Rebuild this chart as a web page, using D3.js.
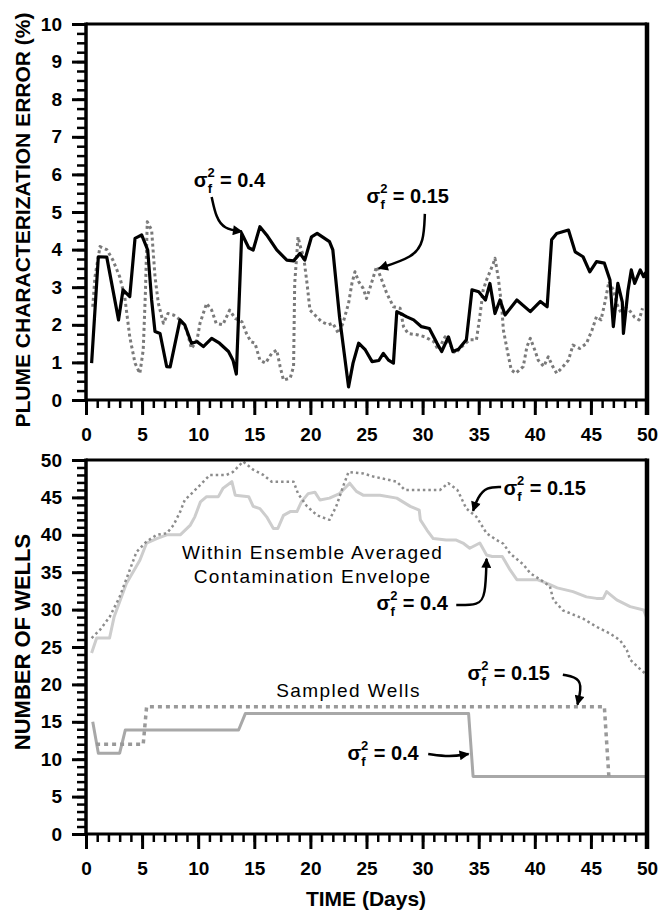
<!DOCTYPE html>
<html>
<head>
<meta charset="utf-8">
<style>
    body { margin: 0; background: #fff; }
    text { font-family: "Liberation Sans", Arial, Helvetica, sans-serif; }
    .tick text { font-size: 19px; font-weight: bold; fill: #000; }
    .tick line { stroke: #000; }
    .sig { font-size: 20px; font-weight: bold; }
    .note { font-size: 19px; letter-spacing: 1.4px; }
    .ttl { font-size: 21px; font-weight: bold; }
</style>
</head>
<body>
<div class="container"></div>
<script src="https://d3js.org/d3.v7.min.js"></script>
<script>
    // ---- top panel: plume characterization error (%) ----
    var err04_t = [0.5, 1.1, 1.85, 2.9, 3.3, 3.9, 4.37, 4.96, 5.5, 5.85, 6.15, 6.6, 7.19, 7.5, 8.38, 8.8, 9.4, 9.9, 10.46, 11.2, 11.9, 12.7, 13.1, 13.4, 13.88, 14.5, 14.9, 15.5, 16.1, 17.0, 17.9, 18.5, 19.07, 19.5, 20.1, 20.6, 21.7, 22.0, 22.6, 23.4, 23.8, 24.3, 24.9, 25.5, 26.1, 26.5, 26.96, 27.4, 27.7, 28.3, 28.6, 29.2, 29.9, 30.6, 31.3, 31.7, 32.3, 32.7, 33.2, 33.9, 34.4, 35.0, 35.6, 36.0, 36.45, 36.9, 37.35, 38.4, 39.6, 40.5, 41.1, 41.5, 41.95, 43.0, 43.6, 44.3, 44.9, 45.5, 46.2, 46.7, 47.0, 47.4, 47.8, 47.9, 48.3, 48.6, 48.9, 49.4, 49.7, 49.9];
    var err04_v = [0.98, 3.81, 3.8, 2.13, 2.93, 2.75, 4.3, 4.39, 3.99, 2.66, 1.82, 1.77, 0.89, 0.88, 2.13, 2.0, 1.51, 1.55, 1.42, 1.64, 1.51, 1.29, 1.06, 0.69, 4.43, 4.05, 3.99, 4.61, 4.39, 3.99, 3.72, 3.7, 3.9, 3.72, 4.34, 4.43, 4.21, 3.99, 2.2, 0.35, 0.98, 1.51, 1.33, 1.02, 1.05, 1.24, 1.06, 0.98, 2.35, 2.26, 2.21, 2.13, 1.95, 1.9, 1.5, 1.29, 1.68, 1.29, 1.35, 1.6, 2.93, 2.88, 2.66, 3.1, 2.3, 2.66, 2.26, 2.66, 2.35, 2.62, 2.48, 4.26, 4.43, 4.52, 3.94, 3.81, 3.41, 3.68, 3.64, 3.19, 1.95, 3.1, 2.6, 1.77, 2.9, 3.46, 3.1, 3.46, 3.28, 3.4];

    var err015_t = [0.6, 0.8, 1.25, 1.85, 2.4, 3.0, 3.45, 3.9, 4.37, 4.8, 5.1, 5.3, 5.46, 5.85, 6.15, 6.45, 6.9, 7.3, 7.8, 8.4, 8.97, 9.4, 9.9, 10.16, 10.75, 11.2, 11.6, 12.2, 12.8, 13.3, 13.9, 14.3, 14.7, 15.06, 15.5, 16.0, 16.55, 17.0, 17.3, 17.6, 18.2, 18.5, 18.6, 18.9, 19.1, 19.4, 19.7, 19.96, 20.4, 21.0, 21.6, 22.0, 22.5, 22.9, 23.4, 23.7, 23.97, 24.3, 24.7, 25.0, 25.3, 25.9, 26.3, 26.8, 27.4, 28.0, 28.3, 28.7, 29.6, 30.2, 31.0, 31.4, 32.0, 32.4, 32.9, 33.5, 34.2, 34.8, 35.1, 35.4, 35.7, 36.3, 36.45, 36.75, 37.05, 37.2, 37.6, 37.9, 38.3, 38.97, 39.3, 39.6, 40.0, 40.3, 40.8, 41.2, 41.6, 41.95, 42.4, 43.0, 43.4, 44.0, 44.6, 45.1, 45.5, 45.9, 46.3, 46.6, 47.0, 47.3, 47.7, 48.0, 48.4, 48.9, 49.3, 49.6];
    var err015_v = [2.48, 3.28, 4.08, 4.0, 3.72, 3.28, 2.75, 1.68, 0.98, 0.71, 1.33, 2.9, 4.74, 4.52, 3.28, 2.57, 2.04, 2.3, 2.26, 2.13, 1.86, 1.37, 1.6, 2.04, 2.57, 2.39, 2.04, 2.0, 2.39, 2.17, 2.08, 1.77, 1.55, 1.51, 1.06, 0.98, 1.24, 1.33, 0.89, 0.53, 0.58, 0.89, 3.1, 4.34, 4.08, 3.81, 3.1, 2.39, 2.26, 2.08, 2.0, 2.04, 1.77, 2.04, 2.57, 3.1, 3.41, 3.15, 2.97, 2.7, 2.97, 3.55, 3.24, 2.84, 2.48, 2.44, 1.95, 1.77, 1.73, 1.68, 1.55, 1.33, 1.68, 1.5, 1.24, 1.42, 1.6, 1.6, 2.22, 2.93, 3.19, 3.63, 3.77, 3.24, 2.48, 1.86, 1.24, 0.8, 0.71, 0.89, 1.42, 1.64, 1.33, 1.06, 0.89, 1.15, 0.89, 0.71, 0.85, 1.06, 1.46, 1.37, 1.5, 1.86, 2.22, 2.13, 2.66, 3.15, 2.93, 2.57, 2.3, 2.48, 2.4, 2.2, 2.13, 2.44];

    // ---- bottom panel: number of wells ----
    var env015_t = [0.5, 1.25, 2.1, 3.0, 3.9, 4.5, 5.4, 6.3, 7.2, 7.8, 8.4, 8.8, 9.4, 10.2, 11.05, 12.5, 13.1, 14.0, 14.9, 15.8, 16.55, 18.5, 18.9, 19.7, 20.6, 21.7, 22.3, 22.9, 23.4, 24.7, 25.6, 27.7, 28.4, 31.55, 32.3, 33.1, 33.9, 34.8, 35.7, 36.6, 37.2, 37.8, 39.0, 39.6, 40.5, 41.35, 41.65, 42.5, 44.3, 45.5, 46.7, 47.6, 48.2, 48.5, 49.2, 49.8];
    var env015_v = [26.2, 27.3, 29.0, 31.7, 35.3, 37.7, 39.1, 40.0, 40.2, 41.3, 43.1, 44.65, 45.5, 46.7, 48.0, 48.0, 48.4, 49.8, 48.7, 48.0, 47.1, 47.1, 45.5, 43.8, 42.6, 42.0, 43.8, 46.4, 48.4, 48.2, 47.8, 47.1, 46.0, 46.0, 46.9, 46.0, 43.5, 42.4, 40.2, 39.3, 38.8, 37.5, 36.0, 34.85, 34.0, 33.1, 31.3, 29.9, 28.8, 27.7, 26.8, 25.9, 24.6, 23.3, 22.3, 21.5];

    var env04_t = [0.5, 0.95, 2.1, 2.5, 3.6, 4.8, 5.4, 6.3, 7.2, 8.4, 9.3, 9.7, 10.2, 10.75, 11.8, 12.2, 13.0, 13.3, 14.5, 14.9, 15.5, 16.1, 16.7, 17.1, 17.6, 18.2, 18.8, 19.2, 19.8, 20.4, 20.85, 21.7, 22.6, 23.5, 24.1, 24.7, 26.2, 27.7, 28.9, 29.7, 29.8, 30.4, 30.95, 32.1, 33.0, 33.6, 34.2, 35.1, 35.7, 36.2, 37.1, 37.8, 38.4, 39.3, 40.2, 41.1, 42.0, 43.4, 44.6, 45.5, 46.1, 46.4, 47.3, 48.5, 49.7, 50];
    var env04_v = [24.2, 26.2, 26.2, 29.0, 33.5, 36.6, 38.9, 39.5, 40.0, 40.0, 41.3, 42.4, 44.4, 45.1, 45.1, 46.2, 47.1, 45.3, 45.1, 43.8, 43.5, 42.4, 40.85, 40.85, 42.6, 43.1, 43.1, 44.4, 45.5, 45.7, 44.65, 44.9, 45.5, 46.9, 45.8, 45.3, 45.3, 44.9, 43.8, 43.3, 42.0, 40.6, 39.5, 39.3, 39.3, 38.9, 38.2, 38.9, 37.3, 37.1, 37.1, 35.3, 34.0, 34.0, 34.0, 33.5, 32.9, 32.4, 31.7, 31.5, 31.5, 32.4, 31.3, 30.4, 29.95, 28.8];

    var samp015_t = [0.9, 5.1, 5.4, 46.2, 46.6];
    var samp015_v = [12, 12, 17, 17, 7.7];
    var samp04_t = [0.6, 1.1, 3.0, 3.5, 13.6, 14.2, 34.1, 34.5, 50];
    var samp04_v = [15, 10.8, 10.8, 13.9, 13.9, 16.1, 16.1, 7.7, 7.7];

    var xTicks = [0, 5, 10, 15, 20, 25, 30, 35, 40, 45, 50];
    var errTicks = [0, 1, 2, 3, 4, 5, 6, 7, 8, 9, 10];
    var wellTicks = [0, 5, 10, 15, 20, 25, 30, 35, 40, 45, 50];

    var W = 659, H = 911;
    var svg = d3.select(".container").append("svg")
        .attr("width", W).attr("height", H);

    svg.append("defs").append("marker")
        .attr("id", "head")
        .attr("viewBox", "0 0 10 10")
        .attr("refX", 9).attr("refY", 5)
        .attr("markerWidth", 16).attr("markerHeight", 10)
        .attr("markerUnits", "userSpaceOnUse")
        .attr("orient", "auto")
        .append("path").attr("d", "M0,0 L10,5 L0,10 z").attr("fill", "#000");

    var x = d3.scaleLinear().domain([0, 50]).range([86, 647]);
    var yTop = d3.scaleLinear().domain([0, 10]).range([400, 24]);
    var yBot = d3.scaleLinear().domain([0, 50]).range([834, 460]);

    function pairs(t, v) { return t.map((d, i) => [d, v[i]]); }

    function axes(y, ticks, minorStep) {
        var g = svg.append("g");
        // minor ticks
        g.append("g").attr("transform", "translate(0," + y.range()[0] + ")")
            .call(d3.axisBottom(x).tickValues(d3.range(0, 51, 1)).tickSize(8).tickFormat(""))
            .call(a => a.select(".domain").remove())
            .selectAll("line").attr("stroke-width", 2.5);
        g.append("g").attr("transform", "translate(" + x.range()[0] + ",0)")
            .call(d3.axisLeft(y).tickValues(d3.range(y.domain()[0], y.domain()[1] + 0.001, minorStep)).tickSize(9).tickFormat(""))
            .call(a => a.select(".domain").remove())
            .selectAll("line").attr("stroke-width", 2.5);
        // major ticks
        g.append("g").attr("transform", "translate(0," + y.range()[0] + ")")
            .call(d3.axisBottom(x).tickValues(xTicks).tickSize(15).tickPadding(13))
            .call(a => a.select(".domain").remove())
            .selectAll("line").attr("stroke-width", 3);
        g.append("g").attr("transform", "translate(" + x.range()[0] + ",0)")
            .call(d3.axisLeft(y).tickValues(ticks).tickSize(14).tickPadding(10))
            .call(a => a.select(".domain").remove())
            .selectAll("line").attr("stroke-width", 3);
        // frame
        var x0 = x.range()[0], x1 = x.range()[1], y0 = y.range()[0], y1 = y.range()[1];
        g.append("path").attr("d", `M${x0},${y1}H${x1}`).attr("stroke", "#000").attr("stroke-width", 3);
        g.append("path").attr("d", `M${x0},${y0}H${x1}`).attr("stroke", "#000").attr("stroke-width", 3);
        g.append("path").attr("d", `M${x0},${y0 + 1.5}V${y1 - 1.5}`).attr("stroke", "#000").attr("stroke-width", 3.5);
        g.append("path").attr("d", `M${x1},${y0 + 15}V${y1 - 1.5}`).attr("stroke", "#000").attr("stroke-width", 4.5);
    }

    function drawLine(y, t, v, color, width, dash) {
        var line = d3.line().x(d => x(d[0])).y(d => y(d[1]));
        svg.append("path")
            .datum(pairs(t, v))
            .attr("d", line)
            .attr("fill", "none")
            .attr("stroke", color)
            .attr("stroke-width", width)
            .attr("stroke-linejoin", "round")
            .attr("stroke-dasharray", dash);
    }

    // sigma_f^2 label: superscript 2 stacked over subscript f
    function sigmaLabel(y, tx, ty, val) {
        var t = svg.append("text").attr("class", "sig").attr("x", x(tx)).attr("y", y(ty));
        t.append("tspan").text("σ");
        t.append("tspan").attr("dy", -10).attr("font-size", 13).text("2");
        t.append("tspan").attr("dx", -7).attr("dy", 16).attr("font-size", 13).text("f");
        t.append("tspan").attr("dx", 8).attr("dy", -6).text("= " + val);
    }

    function arrow(y, pts) {
        var line = d3.line().x(d => x(d[0])).y(d => y(d[1])).curve(d3.curveBasis);
        svg.append("path").attr("d", line(pts))
            .attr("fill", "none").attr("stroke", "#000").attr("stroke-width", 2.5)
            .attr("marker-end", "url(#head)");
    }

    // series first, axes on top
    drawLine(yTop, err015_t, err015_v, "#7a7a7a", 3, "3,3");
    drawLine(yTop, err04_t, err04_v, "#000", 3.2, null);

    drawLine(yBot, env04_t, env04_v, "#cdcdcd", 3, null);
    drawLine(yBot, env015_t, env015_v, "#8c8c8c", 2.5, "2.5,3");
    drawLine(yBot, samp04_t, samp04_v, "#a8a8a8", 3, null);
    drawLine(yBot, samp015_t, samp015_v, "#999", 3.5, "4,4");

    axes(yTop, errTicks, 0.25);
    axes(yBot, wellTicks, 1);

    // annotations, top
    sigmaLabel(yTop, 9.6, 5.67, "0.4");
    arrow(yTop, [[11.2, 5.4], [11.6, 4.85], [12.3, 4.55], [13.9, 4.48]]);
    sigmaLabel(yTop, 25.0, 5.24, "0.15");
    arrow(yTop, [[30.2, 4.95], [30.1, 4.2], [29.2, 3.8], [26.1, 3.5]]);

    // annotations, bottom
    sigmaLabel(yBot, 37.2, 45.3, "0.15");
    arrow(yBot, [[37.0, 46.4], [35.7, 46.4], [34.9, 45.0], [34.5, 43.2]]);
    svg.append("text").attr("class", "note").attr("text-anchor", "middle")
        .attr("x", x(20.2)).attr("y", yBot(36.7)).text("Within Ensemble Averaged");
    svg.append("text").attr("class", "note").attr("text-anchor", "middle")
        .attr("x", x(20.2)).attr("y", yBot(33.6)).text("Contamination Envelope");
    sigmaLabel(yBot, 25.9, 29.9, "0.4");
    arrow(yBot, [[33.0, 30.6], [35.0, 30.6], [35.6, 31.8], [35.7, 36.8]]);

    svg.append("text").attr("class", "note").attr("text-anchor", "middle")
        .attr("x", x(23.4)).attr("y", yBot(18.3)).text("Sampled Wells");
    sigmaLabel(yBot, 34.0, 20.6, "0.15");
    arrow(yBot, [[42.5, 21.3], [44.2, 20.8], [44.0, 18.5], [43.8, 17.3]]);
    sigmaLabel(yBot, 23.3, 9.9, "0.4");
    arrow(yBot, [[30.5, 10.7], [32.4, 10.3], [34.1, 10.7]]);

    // axis titles
    svg.append("text").attr("class", "ttl").attr("text-anchor", "middle")
        .attr("transform", "translate(30,220) rotate(-90)")
        .text("PLUME CHARACTERIZATION ERROR (%)");
    svg.append("text").attr("class", "ttl").attr("text-anchor", "middle")
        .attr("transform", "translate(30,642) rotate(-90)")
        .style("font-size", "22px")
        .text("NUMBER OF WELLS");
    svg.append("text").attr("class", "ttl").attr("text-anchor", "middle")
        .attr("x", 366).attr("y", 906)
        .text("TIME (Days)");
</script>
</body>
</html>
